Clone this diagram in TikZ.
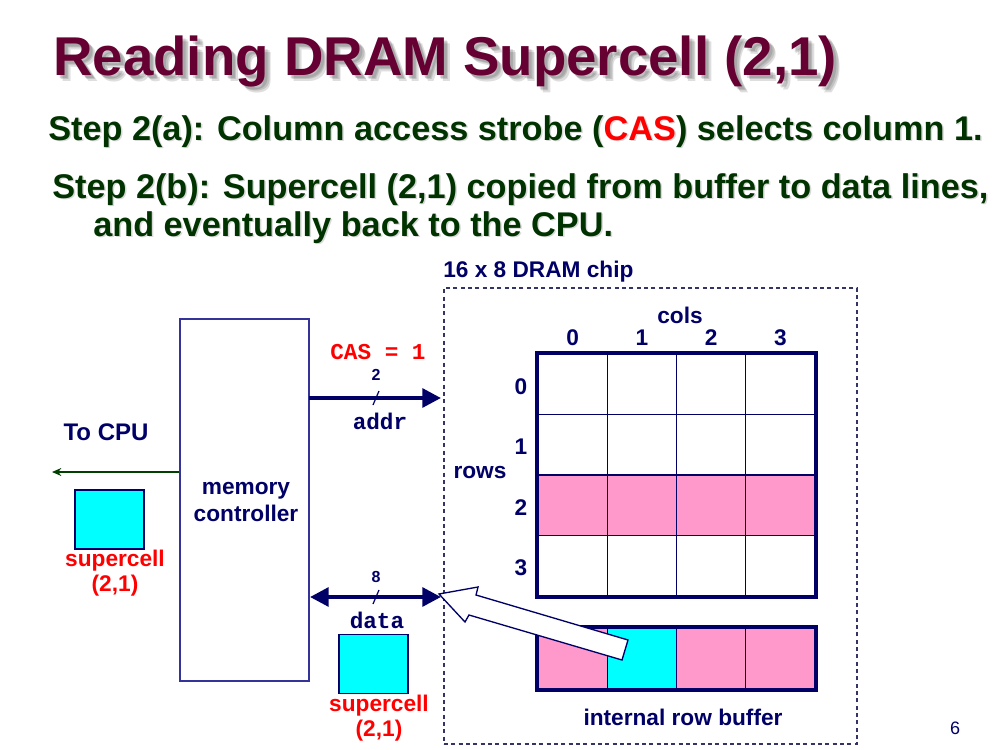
\documentclass[tikz,border=0pt]{standalone}
\usepackage{fontspec}
\setmainfont{Liberation Sans}
\setmonofont{Liberation Mono}
\usetikzlibrary{arrows.meta,calc}

\definecolor{titlemaroon}{RGB}{102,0,51}
\definecolor{stepgreen}{RGB}{0,51,0}
\definecolor{navy}{RGB}{0,0,102}
\definecolor{boxblue}{RGB}{51,51,153}
\definecolor{chipline}{RGB}{51,51,102}
\definecolor{cellpink}{RGB}{255,153,204}
\definecolor{cellcyan}{RGB}{0,255,255}
\definecolor{cpugreen}{RGB}{0,64,0}

\begin{document}
\begin{tikzpicture}[x=0.75pt,y=-0.75pt,
  titletext/.style={font=\fontsize{41}{48}\selectfont\bfseries, anchor=base west, inner sep=0},
  steptext/.style={font=\fontsize{25.7}{30}\selectfont\bfseries, anchor=base west, inner sep=0},
  softshadow/.style={text=black, text opacity=0.13},
  lbl/.style={font=\fontsize{17}{20}\selectfont\bfseries, text=navy, inner sep=0, align=center},
  smalllbl/.style={font=\fontsize{12}{14}\selectfont\bfseries, text=navy, inner sep=0},
  monolbl/.style={font=\fontsize{17}{20}\selectfont\ttfamily\bfseries, inner sep=0},
  redlbl/.style={font=\fontsize{17}{19}\selectfont\bfseries, text=red, inner sep=0, align=center},
  cell/.style={draw=navy, line width=1.1pt, minimum width=51.94pt, minimum height=45.375pt, inner sep=0},
  bufcell/.style={draw=navy, line width=1.1pt, minimum width=51.94pt, minimum height=45.75pt, inner sep=0},
  scbox/.style={draw=navy, line width=1.1pt, fill=cellcyan, minimum width=51.75pt, minimum height=44.5pt, inner sep=0},
  bus/.style={draw=navy, line width=3pt},
  slash/.style={draw=navy, line width=0.9pt},
]
\useasboundingbox (0,0) rectangle (997,750);

% ---- heading, with a soft drop shadow ----
\foreach \d in {3,4.5,6}
  \node[titletext, softshadow] at (53+\d,75+\d) {Reading DRAM Supercell (2,1)};
\node[titletext, text=titlemaroon] (title) at (53,75) {Reading DRAM Supercell (2,1)};

\node[steptext, text=black, text opacity=0.15] (stepashadow) at (49.5,141.5) {Step 2(a): Column access strobe (CAS) selects column 1.};
\node[steptext, text=stepgreen] (stepa) at (48,140) {Step 2(a): Column access strobe (\textcolor{red}{CAS}) selects column 1.};

\node[steptext, text=black, text opacity=0.15] (stepbshadow) at (53.5,199.5) {Step 2(b): Supercell (2,1) copied from buffer to data lines,};
\node[steptext, text=stepgreen] (stepb) at (52,198) {Step 2(b): Supercell (2,1) copied from buffer to data lines,};
\node[steptext, text=black, text opacity=0.15] (stepcshadow) at (94.5,237.5) {and eventually back to the CPU.};
\node[steptext, text=stepgreen] (stepc) at (93,236) {and eventually back to the CPU.};

% ---- DRAM chip ----
\node[lbl, anchor=base west] (chiplabel) at (443,277) {16 x 8 DRAM chip};
\node[draw=chipline, dashed, dash pattern=on 3pt off 2.5pt, line width=0.9pt,
      minimum width=309.75pt, minimum height=342pt, inner sep=0] (chip) at (650.5,516) {};

% supercell array
\foreach \r/\fc in {0/white,1/white,2/cellpink,3/white}
  \foreach \c in {0,...,3}
    \node[cell, fill=\fc] (c-\r-\c) at ({538+69.25*(\c+0.5)},{354+60.5*(\r+0.5)}) {};
\draw[navy, line width=3pt] (c-0-0.north west) rectangle (c-3-3.south east);

\node[lbl] (colslabel) at (680,315) {cols};
\foreach \c in {0,...,3}
  \node[lbl] (colnum-\c) at ({538+69.25*(\c+0.5)},338) {\c};
\node[lbl] (rowslabel) at (480,473) {rows};
\foreach \r in {0,...,3}
  \node[lbl] (rownum-\r) at (521,{356+60.5*(\r+0.5)}) {\r};

% internal row buffer
\foreach \c/\fc in {0/cellpink,1/cellcyan,2/cellpink,3/cellpink}
  \node[bufcell, fill=\fc] (b-\c) at ({538+69.25*(\c+0.5)},658.5) {};
\draw[navy, line width=3pt] (b-0.north west) rectangle (b-3.south east);
\node[lbl] (buflabel) at (683,717) {internal row buffer};

% ---- memory controller ----
\node[draw=boxblue, line width=1.1pt, minimum width=96.75pt, minimum height=271.5pt,
      inner sep=0] (mc) at (244.5,500) {};
\node[lbl, font=\fontsize{17}{20.5}\selectfont\bfseries] (mctext) at (246,502) {memory\\controller};

% ---- address bus ----
\coordinate (addrS) at (309,398);
\coordinate (addrE) at (441,398);
\node[monolbl, text=red] (caslabel) at (378,352) {CAS = 1};
\draw[bus, -{Triangle[length=14pt,width=14pt]}, navy] (addrS) -- (addrE);
\draw[slash] (373,405) -- (379,391);
\node[smalllbl] (addrwidth) at (376,375) {2};
\node[monolbl, text=navy] (addrlabel) at (380,421) {addr};

% ---- data bus ----
\coordinate (dataS) at (310,597);
\coordinate (dataE) at (441,597);
\draw[bus, {Triangle[length=14pt,width=14pt]}-{Triangle[length=14pt,width=14pt]}, navy] (dataS) -- (dataE);
\draw[slash] (373,604) -- (379,590);
\node[smalllbl] (datawidth) at (376,577) {8};
\node[monolbl, text=navy] (datalabel) at (377,620) {data};

\node[scbox] (scdata) at (373.5,664) {};
\node[redlbl] (scdatatext) at (379,718) {supercell\\(2,1)};

% ---- to CPU ----
\node[lbl, font=\fontsize{18}{20}\selectfont\bfseries] (cpulabel) at (106,432) {To CPU};
\coordinate (cpuend) at (52,472);
\draw[cpugreen, line width=1.1pt, -{Stealth[length=7pt,width=6pt]}] (mc.west |- cpuend) -- (cpuend);
\node[scbox] (sccpu) at (109.5,519.5) {};
\node[redlbl] (sccputext) at (115,573) {supercell\\(2,1)};

% ---- copy from buffer to data lines ----
\draw[navy, fill=white, line width=1pt, line join=miter]
  (439,594) -- (478,587) -- (476,595) -- (628,640) -- (622,660) -- (469,615) -- (465,622) -- cycle;

% page number
\node[font=\fontsize{13.5}{16}\selectfont, text=navy, inner sep=0] (pagenum) at (955,728) {6};
\end{tikzpicture}
\end{document}
